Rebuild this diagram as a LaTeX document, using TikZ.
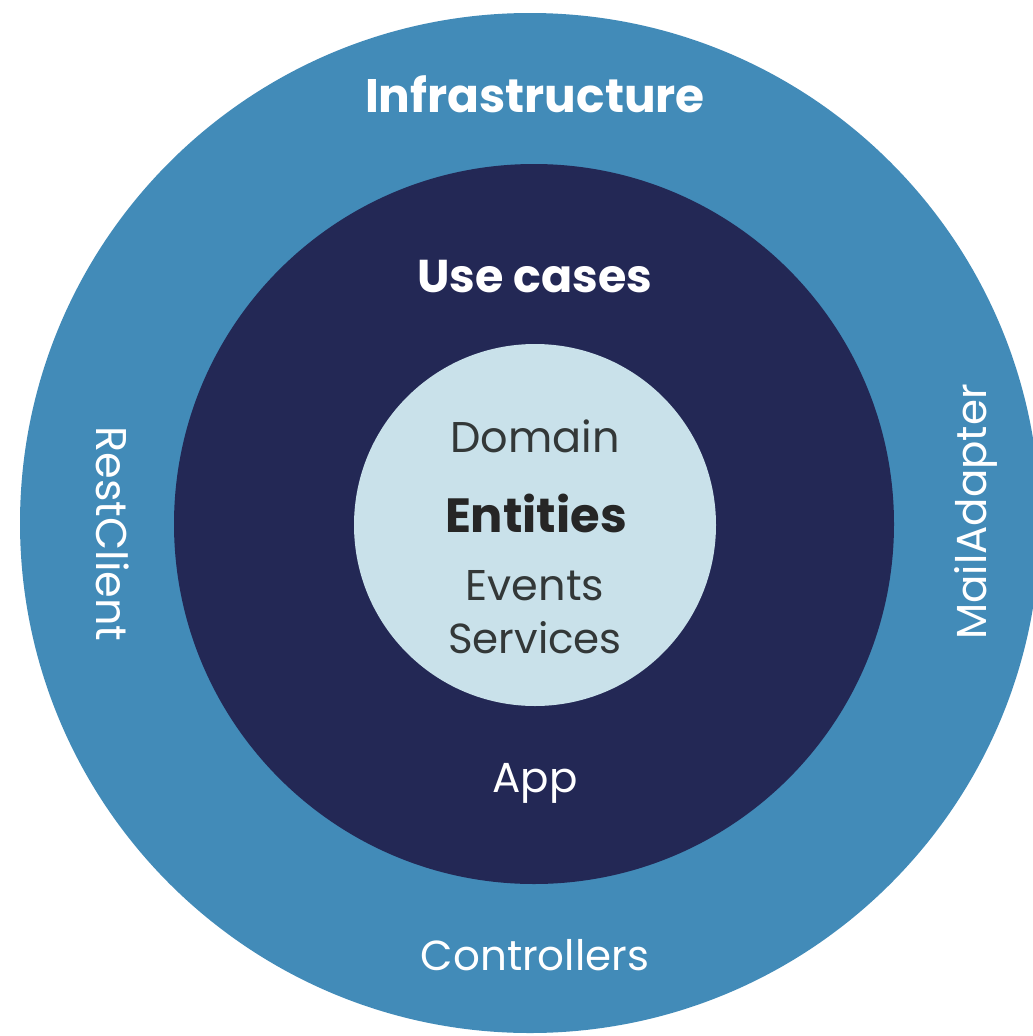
\documentclass[tikz,border=0pt]{standalone}
\usepackage{fontspec}
\setmainfont{Poppins}
\definecolor{outerblue}{HTML}{428BB8}
\definecolor{navy}{HTML}{232855}
\definecolor{lightcore}{HTML}{C9E1EA}
\definecolor{coretext}{HTML}{333838}
\begin{document}
\begin{tikzpicture}[x=1pt,y=-1pt,
  lbl/.style={inner sep=0pt,anchor=base,text=white},
  corelbl/.style={inner sep=0pt,anchor=base,text=coretext}]
\useasboundingbox (0,0) rectangle (1033,1036);
\fill[outerblue] (530,523) circle (510);
\fill[navy] (534,524) circle (360);
\fill[lightcore] (535,525) circle (181);
\node[lbl,font=\bfseries\fontsize{47}{52}\selectfont] (infra) at (535,112) {Infrastructure};
\node[lbl,font=\bfseries\fontsize{46}{52}\selectfont] (uc) at (535,292) {Use cases};
\node[corelbl,font=\fontsize{43}{48}\selectfont] (dom) at (535,452) {Domain};
\node[corelbl,font=\bfseries\fontsize{48}{54}\selectfont,text=black!85] (ent) at (536,532) {Entities};
\node[corelbl,font=\fontsize{43}{48}\selectfont] (ev) at (535,600) {Events};
\node[corelbl,font=\fontsize{42}{48}\selectfont] (serv) at (535,653) {Services};
\node[lbl,font=\fontsize{42}{48}\selectfont] (app) at (535,792) {App};
\node[lbl,font=\fontsize{42}{48}\selectfont] (ctrl) at (535,970) {Controllers};
\node[lbl,font=\fontsize{43}{48}\selectfont,rotate=-90,anchor=center] (rest) at (113,534) {RestClient};
\node[lbl,font=\fontsize{42}{48}\selectfont,rotate=90,anchor=center] (mail) at (976,512) {MailAdapter};
\end{tikzpicture}
\end{document}
